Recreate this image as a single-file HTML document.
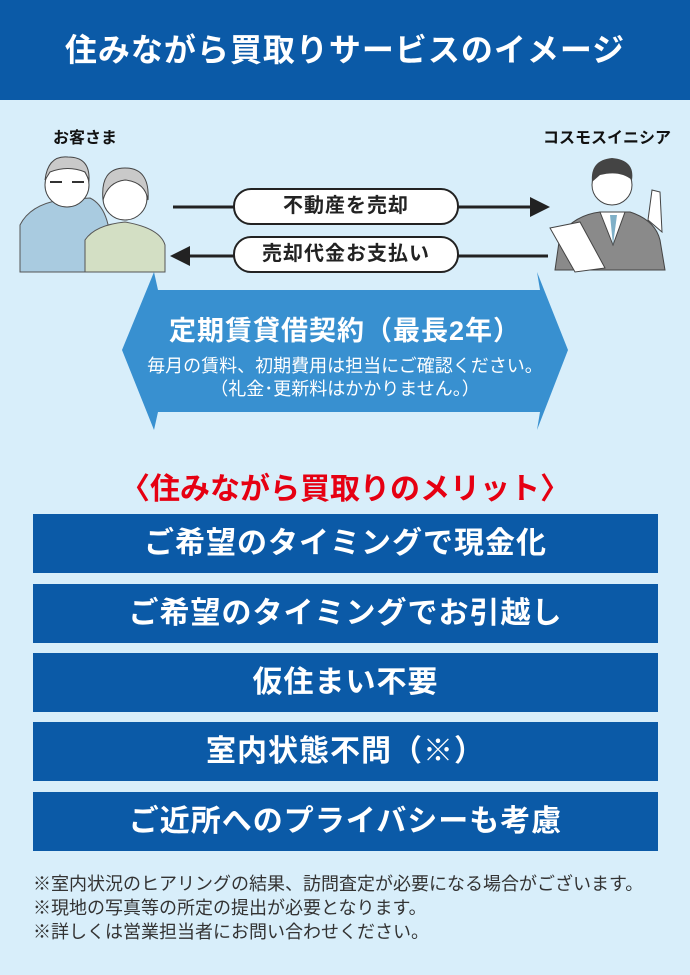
<!DOCTYPE html>
<html><head><meta charset="utf-8"><style>
*{margin:0;padding:0;box-sizing:border-box}
body{width:690px;height:975px;background:#d8eefa;font-family:"Liberation Sans","Noto Sans CJK JP",sans-serif;position:relative;overflow:hidden}
.a{position:absolute}
.hdr{left:0;top:0;width:690px;height:100px;background:#0b5aa7;color:#fff;font-size:32px;font-weight:bold;text-align:center;line-height:100px;letter-spacing:1px}
.lbl{font-size:16px;font-weight:bold;color:#111;white-space:nowrap}
.pill{background:#fff;border:2px solid #222;border-radius:18px;height:37px;width:226px;text-align:center;font-size:20px;font-weight:bold;line-height:33px;color:#222;letter-spacing:1px}
.box{left:33px;width:625px;height:59px;background:#0b5aa7;color:#fff;font-size:30px;font-weight:bold;text-align:center;line-height:59px;letter-spacing:1px}
.note{left:33px;font-size:18px;color:#333;line-height:24px;white-space:nowrap}
</style></head><body>
<div class="a hdr">住みながら買取りサービスのイメージ</div>
<div class="a lbl" style="left:53px;top:124px">お客さま</div>
<div class="a lbl" style="left:543px;top:124px">コスモスイニシア</div>

<svg class="a" style="left:0;top:0" width="690" height="975">
 <path d="M20 272 L20 225 Q30 205 60 200 L90 198 Q115 210 110 272 Z" fill="#a9cbe0" stroke="#555" stroke-width="1"/>
 <circle cx="67" cy="185" r="22" fill="#fff" stroke="#444"/>
 <path d="M45 180 Q48 155 68 157 Q90 157 89 180 L85 172 Q68 165 50 172Z" fill="#c9c9c9" stroke="#444"/>
 <path d="M50 182 h12 M72 182 h12" stroke="#333" stroke-width="2"/>
 <path d="M85 272 L85 240 Q95 225 125 222 Q160 228 165 245 L165 272Z" fill="#d3dfc4" stroke="#555"/>
 <circle cx="125" cy="198" r="22" fill="#fff" stroke="#444"/>
 <path d="M103 200 Q100 168 125 168 Q150 168 148 200 Q145 182 125 180 Q108 182 103 200Z" fill="#c9c9c9" stroke="#444"/>
 <path d="M555 270 L560 235 Q575 215 600 212 L630 212 Q655 220 660 240 L665 270Z" fill="#8a8a8a" stroke="#444"/>
 <path d="M600 212 L613 245 L625 212Z" fill="#fff" stroke="#444"/>
 <path d="M610 215 L613 245 L617 215Z" fill="#7fb0c8"/>
 <circle cx="612" cy="185" r="20" fill="#fff" stroke="#444"/>
 <path d="M592 182 Q590 160 612 158 Q635 160 632 180 Q620 170 600 175Z" fill="#444"/>
 <path d="M550 228 L580 222 L605 268 L575 272Z" fill="#fff" stroke="#444"/>
 <path d="M648 220 L652 190 L660 192 L662 232Z" fill="#fff" stroke="#444"/>
 <line x1="173" y1="207" x2="532" y2="207" stroke="#222" stroke-width="3"/>
 <path d="M530 197 L550 207 L530 217Z" fill="#222"/>
 <line x1="190" y1="256" x2="548" y2="256" stroke="#222" stroke-width="3"/>
 <path d="M190 246 L170 256 L190 266Z" fill="#222"/>
 <polygon points="154,272 158,290 540,290 537,272 568,350 537,430 540,412 158,412 154,430 122,350" fill="#3890d0"/>
</svg>
<div class="a pill" style="left:233px;top:188px">不動産を売却</div>
<div class="a pill" style="left:233px;top:236px">売却代金お支払い</div>

<div class="a" style="left:100px;width:490px;top:309px;text-align:center;color:#fff;font-size:27px;font-weight:bold;letter-spacing:1px">定期賃貸借契約（最長2年）</div>
<div class="a" style="left:100px;width:490px;top:355px;text-align:center;color:#fff;font-size:18px;line-height:23px;white-space:nowrap">毎月の賃料、初期費用は担当にご確認ください。<br>（礼金･更新料はかかりません。）</div>

<div class="a" style="left:0;width:690px;top:464px;text-align:center;color:#e60012;font-size:30px;font-weight:bold">〈住みながら買取りのメリット〉</div>
<div class="a box" style="top:514px">ご希望のタイミングで現金化</div>
<div class="a box" style="top:584px">ご希望のタイミングでお引越し</div>
<div class="a box" style="top:653px">仮住まい不要</div>
<div class="a box" style="top:722px">室内状態不問（※）</div>
<div class="a box" style="top:792px">ご近所へのプライバシーも考慮</div>

<div class="a note" style="top:872px">※室内状況のヒアリングの結果、訪問査定が必要になる場合がございます。<br>※現地の写真等の所定の提出が必要となります。<br>※詳しくは営業担当者にお問い合わせください。</div>
</body></html>
